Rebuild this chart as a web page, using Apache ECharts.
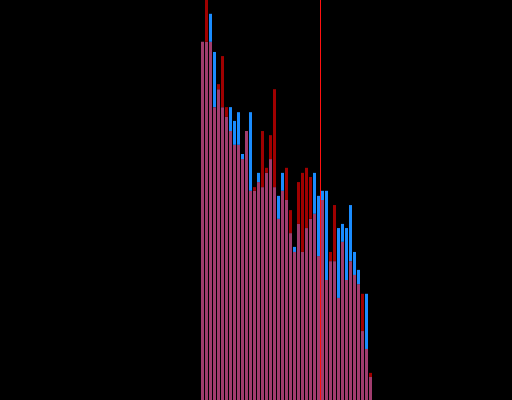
<!DOCTYPE html>
<html>
<head>
<meta charset="utf-8">
<script src="https://cdn.jsdelivr.net/npm/echarts@6/dist/echarts.min.js"></script>
<style>html,body{margin:0;padding:0;background:#000;}#c{width:512px;height:400px;}</style>
</head>
<body>
<div id="c"></div>
<script>
var binLabels = ['0','1','2','3','4','5','6','7','8','9','10','11','12','13','14','15','16','17','18','19','20',
  '21','22','23','24','25','26','27','28','29','30','31','32','33','34','35','36','37','38','39','40','41','42'];
var blueValues = [77.9,77.9,84.0,75.7,67.6,63.7,61.6,63.7,60.7,62.6,53.5,58.5,62.6,45.5,49.4,46.3,49.4,52.4,46.3,44.4,49.4,
  43.5,36.3,33.3,38.3,32.2,37.4,39.4,49.4,44.4,45.5,45.5,30.2,30.2,37.4,38.3,37.4,42.4,32.2,28.3,15.0,23.1,5.0];
var redValues = [77.9,87.0,77.9,63.7,68.7,74.8,63.7,58.5,55.5,55.5,52.4,58.5,45.5,46.3,47.4,58.5,50.5,57.6,67.6,39.4,45.5,
  50.5,41.3,32.2,47.4,49.4,50.5,48.5,40.5,31.3,43.5,26.1,32.2,42.4,22.2,34.4,26.1,30.2,27.2,25.2,23.1,11.1,5.9];
var thresholdBin = 30;
var yMax = 87;

var overlap = [], blueOnly = [], redOnly = [];
for (var i = 0; i < binLabels.length; i++) {
  var b = blueValues[i], r = redValues[i];
  overlap.push(Math.min(b, r));
  blueOnly.push(Math.max(0, +(b - r).toFixed(3)));
  redOnly.push(Math.max(0, +(r - b).toFixed(3)));
}

var chart = echarts.init(document.getElementById('c'), null, {renderer: 'canvas'});
chart.setOption({
  backgroundColor: '#000000',
  animation: false,
  grid: {left: 200.5, width: 172, top: 0, bottom: 0, containLabel: false},
  xAxis: [
    {type: 'category', data: binLabels, show: false, boundaryGap: true},
    {type: 'value', min: 0, max: binLabels.length, show: false}
  ],
  yAxis: {type: 'value', min: 0, max: yMax, show: false, splitLine: {show: false}},
  series: [
    {type: 'bar', name: 'overlap', stack: 'h', data: overlap, barWidth: 3, itemStyle: {color: '#a03c6e'}, silent: true},
    {type: 'bar', name: 'blue', stack: 'h', data: blueOnly, barWidth: 3, itemStyle: {color: '#1a8cff'}, silent: true},
    {type: 'bar', name: 'red', stack: 'h', data: redOnly, barWidth: 3, itemStyle: {color: '#a00000'}, silent: true},
    {type: 'line', name: 'threshold', xAxisIndex: 1, data: [], silent: true,
      markLine: {silent: true, symbol: ['none', 'none'], label: {show: false},
        lineStyle: {color: '#ff1010', width: 1, type: 'solid'},
        data: [{xAxis: thresholdBin}]}}
  ]
});
</script>
</body>
</html>
